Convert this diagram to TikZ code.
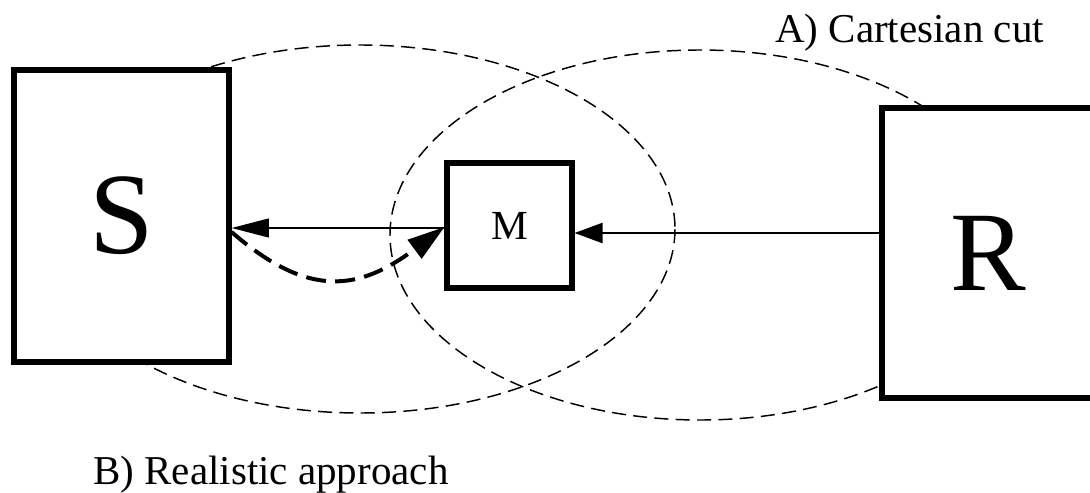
\documentclass[tikz,border=0pt]{standalone}
\usepackage{fontspec}
\setmainfont{Liberation Serif}
\usetikzlibrary{arrows.meta}
\begin{document}
\begin{tikzpicture}[x=0.75pt,y=-0.75pt,
  box/.style={draw, line width=3.8pt, fill=white, inner sep=0pt},
  cut/.style={line width=1.1pt, dash pattern=on 10.5pt off 5.5pt},
  flow/.style={line width=1.7pt},
  loop/.style={line width=3pt, dash pattern=on 15pt off 7pt},
  lbl/.style={anchor=base west, inner sep=0pt, font=\fontsize{30.75}{32}\selectfont}]
\useasboundingbox (0,0) rectangle (1090,493);
% the two cuts
\draw[cut] (360,229) ellipse [x radius=315, y radius=184];
\draw[cut] (700,235) ellipse [x radius=310, y radius=185];
% boxes
\node[box, minimum width=161.25pt, minimum height=219pt, font=\fontsize{87}{87}\selectfont] (S) at (121.5,216) {S};
\node[box, minimum width=159pt, minimum height=217.5pt, font=\fontsize{85}{85}\selectfont] (R) at (988,253) {R};
\node[box, minimum width=93.75pt, minimum height=93.75pt, font=\fontsize{31}{31}\selectfont] (M) at (509.5,225.5) {M};
% helper levels
\coordinate (a1) at (0,228);
\coordinate (a2) at (0,233);
\coordinate (d1) at (0,232);
\coordinate (d2) at (0,227);
% connectors
\draw[flow, -{Triangle[length=28pt,width=14pt]}] (M.west |- a1) -- (S.east |- a1);
\draw[flow, -{Triangle[length=21pt,width=15pt]}] (R.west |- a2) -- (M.east |- a2);
\draw[loop, -{Triangle[length=28pt,width=17pt]}] (S.east |- d1) .. controls (310,300) and (360,290) .. (M.west |- d2);
% labels
\node[lbl] (A) at (775,42) {A) Cartesian cut};
\node[lbl] (B) at (93,484) {B) Realistic approach};
\end{tikzpicture}
\end{document}
